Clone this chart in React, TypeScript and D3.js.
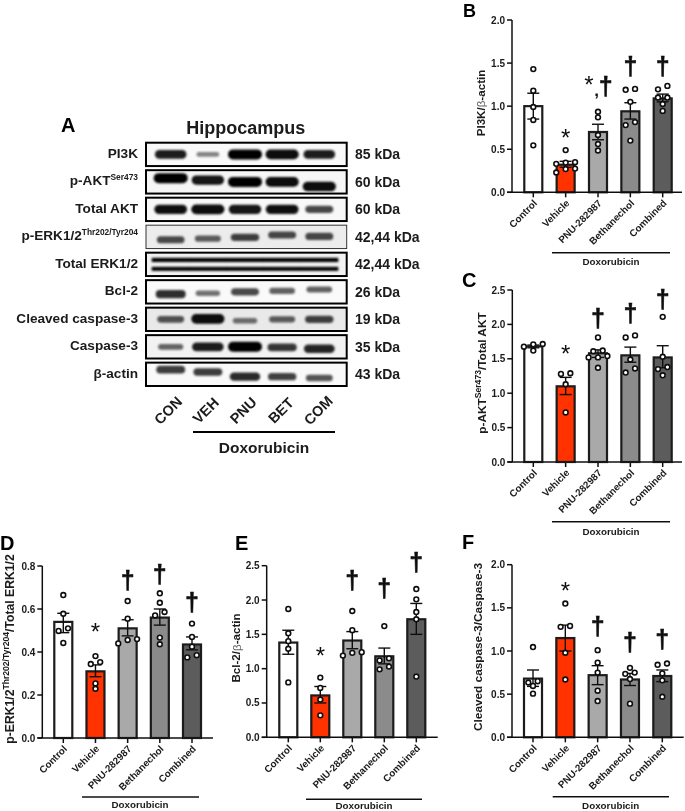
import React from "react";
import * as d3 from "d3";

const groups = ["Control", "Vehicle", "PNU-282987", "Bethanechol", "Combined"];
const barColors = ["#ffffff", "#ff3000", "#a9a9a9", "#8b8b8b", "#5c5c5c"];

const bMeans = [1.0, 0.32, 0.7, 0.94, 1.09];
const bUpper = [1.15, 0.36, 0.79, 1.04, 1.14];
const bLower = [0.85, 0.29, 0.61, 0.85, 1.05];
const bPoints = [
  [1.43, 1.18, 0.99, 0.84, 0.545],
  [0.49, 0.35, 0.345, 0.33, 0.275, 0.27, 0.23],
  [0.935, 0.87, 0.665, 0.56, 0.485],
  [1.2, 1.19, 1.05, 0.815, 0.78, 0.6],
  [1.235, 1.195, 1.1, 1.1, 1.025, 0.945],
];
const cMeans = [1.68, 1.1, 1.58, 1.55, 1.52];
const cUpper = [1.7, 1.23, 1.63, 1.67, 1.69];
const cLower = [1.66, 0.98, 1.52, 1.45, 1.37];
const cPoints = [
  [1.715, 1.71, 1.676, 1.62],
  [1.29, 1.28, 1.13, 0.72],
  [1.81, 1.62, 1.61, 1.54, 1.52, 1.52, 1.37],
  [1.84, 1.81, 1.49, 1.36, 1.3],
  [2.11, 1.53, 1.38, 1.35, 1.26],
];
const dMeans = [0.54, 0.31, 0.51, 0.56, 0.435];
const dUpper = [0.58, 0.34, 0.55, 0.6, 0.47];
const dLower = [0.49, 0.285, 0.475, 0.525, 0.41];
const dPoints = [
  [0.665, 0.578, 0.51, 0.498, 0.442],
  [0.381, 0.353, 0.344, 0.254, 0.229],
  [0.637, 0.555, 0.46, 0.456, 0.44],
  [0.673, 0.629, 0.586, 0.57, 0.467, 0.436],
  [0.532, 0.47, 0.425, 0.385, 0.375],
];
const eMeans = [1.38, 0.61, 1.41, 1.18, 1.72];
const eUpper = [1.56, 0.74, 1.54, 1.3, 1.95];
const eLower = [1.21, 0.5, 1.29, 1.07, 1.5];
const ePoints = [
  [1.87, 1.515, 1.4, 1.29, 0.8],
  [0.87, 0.72, 0.55, 0.32],
  [1.84, 1.56, 1.24, 1.23, 1.19],
  [1.62, 1.15, 1.12, 1.03, 0.99],
  [2.16, 2.01, 1.825, 1.72, 0.885],
];
const fMeans = [0.68, 1.15, 0.72, 0.67, 0.71];
const fUpper = [0.78, 1.3, 0.83, 0.74, 0.78];
const fLower = [0.59, 1.0, 0.61, 0.6, 0.645];
const fPoints = [
  [1.046, 0.65, 0.635, 0.595, 0.506],
  [1.55, 1.29, 1.28, 0.98, 0.67],
  [1.01, 0.865, 0.75, 0.54, 0.42],
  [0.805, 0.75, 0.735, 0.675, 0.39],
  [0.855, 0.84, 0.74, 0.66, 0.47],
];

// marks above bars: group index, symbol, height in axis units
const bMarks: [number, string, number][] = [[1, "*", 0.68], [2, "*,†", 1.21], [3, "†", 1.44], [4, "†", 1.44]];
const cMarks: [number, string, number][] = [[1, "*", 1.63], [2, "†", 2.05], [3, "†", 2.13], [4, "†", 2.33]];
const dMarks: [number, string, number][] = [[1, "*", 0.513], [2, "†", 0.722], [3, "†", 0.753], [4, "†", 0.623]];
const eMarks: [number, string, number][] = [[1, "*", 1.24], [2, "†", 2.26], [3, "†", 2.14], [4, "†", 2.52]];
const fMarks: [number, string, number][] = [[1, "*", 1.745], [2, "†", 1.26], [3, "†", 1.08], [4, "†", 1.11]];

const lanes = ["CON", "VEH", "PNU", "BET", "COM"];
const blotNames: [string, string?][] = [
  ["PI3K"], ["p-AKT", "Ser473"], ["Total AKT"], ["p-ERK1/2", "Thr202/Tyr204"], ["Total ERK1/2"],
  ["Bcl-2"], ["Cleaved caspase-3"], ["Caspase-3"], ["β-actin"],
];
const blotKda = ["85 kDa", "60 kDa", "60 kDa", "42,44 kDa", "42,44 kDa", "26 kDa", "19 kDa", "35 kDa", "43 kDa"];
const blotStrength = [
  [0.85, 0.3, 1, 0.95, 0.85],
  [1, 0.9, 1, 0.95, 0.95],
  [0.92, 0.95, 0.9, 0.92, 0.62],
  [0.6, 0.5, 0.65, 0.62, 0.62],
  [0.55, 0.55, 0.55, 0.55, 0.55],
  [0.75, 0.4, 0.62, 0.48, 0.48],
  [0.55, 0.95, 0.4, 0.5, 0.65],
  [0.45, 0.85, 1, 0.7, 0.8],
  [0.68, 0.68, 0.78, 0.65, 0.55],
];
const blotDrift = [
  [0, 0, 0, 0, 0],
  [-0.16, -0.08, 0, 0, 0.2],
  [0, 0, 0, 0, 0],
  [0.12, 0.08, 0.02, -0.08, -0.02],
  [0, 0, 0, 0, 0],
  [0.1, 0.06, 0, -0.04, -0.1],
  [0, -0.02, 0.06, 0, 0],
  [0, 0, 0, 0.02, 0.08],
  [-0.2, -0.1, 0.1, 0.1, 0.16],
];
const blotShade = [0.05, 0.07, 0.06, 0.14, 0.1, 0.04, 0.16, 0.1, 0.05];
const doubleBandRow = 4;

const FONT = "'Liberation Sans', Arial, sans-serif";

type PanelProps = {
  letter: string; letterX: number; letterY: number; letterSize?: number;
  axisX: number; endX: number; y0: number; yTop: number; max: number; step: number;
  firstX: number; lastX: number; means: number[]; upper: number[]; lower: number[]; points: number[][];
  marks: [number, string, number][]; title: React.ReactNode; titleX: number; titleY: number; titleSize?: number;
  lineY: number; lineX0: number; lineX1: number; doxY: number; doxX: number;
};

function layoutPoints(values: number[], y: (v: number) => number) {
  const sorted = [...values].sort((a, b) => b - a);
  const bins: number[][] = [];
  sorted.forEach((v) => {
    const last = bins[bins.length - 1];
    if (last && y(v) - y(last[0]) < 4.5) last.push(v);
    else bins.push([v]);
  });
  const out: { v: number; dx: number }[] = [];
  bins.forEach((bin) => {
    const asc = [...bin].reverse();
    asc.forEach((v, i) => out.push({ v, dx: (i - (asc.length - 1) / 2) * 9.4 }));
  });
  return out;
}

const Star = ({ x, y }: { x: number; y: number }) => (
  <text x={x} y={y} textAnchor="middle" fontSize={24} fill="#111">*</text>
);
const Dagger = ({ x, y }: { x: number; y: number }) => (
  <text x={x} y={y} textAnchor="middle" fontSize={25} fontWeight="bold" fill="#111" stroke="#111" strokeWidth={0.5}>†</text>
);

function Panel(p: PanelProps) {
  const y = d3.scaleLinear().domain([0, p.max]).range([p.y0, p.yTop]);
  const x = d3.scalePoint<string>().domain(groups).range([p.firstX, p.lastX]);
  const ticks = d3.range(0, p.max + p.step / 2, p.step);
  const barW = 18;
  return (
    <g fontFamily={FONT}>
      <text x={p.letterX} y={p.letterY} fontSize={p.letterSize ?? 20} fontWeight="bold">{p.letter}</text>
      {groups.map((g, i) => {
        const cx = x(g)!;
        return (
          <g key={g}>
            <line x1={cx} x2={cx} y1={p.y0} y2={p.y0 + 5} stroke="#111" strokeWidth={1.5} />
            <rect x={cx - barW / 2} y={y(p.means[i])} width={barW} height={p.y0 - y(p.means[i])} fill={barColors[i]} stroke="#1c1c1c" strokeWidth={2.2} />
            <line x1={cx} x2={cx} y1={y(p.upper[i])} y2={y(p.lower[i])} stroke="#111" strokeWidth={1.4} />
            <line x1={cx - 6} x2={cx + 6} y1={y(p.upper[i])} y2={y(p.upper[i])} stroke="#111" strokeWidth={1.4} />
            <line x1={cx - 6} x2={cx + 6} y1={y(p.lower[i])} y2={y(p.lower[i])} stroke="#111" strokeWidth={1.4} />
            {layoutPoints(p.points[i], y).map((pt, j) => (
              <circle key={j} cx={cx + pt.dx} cy={y(pt.v)} r={2.4} fill="#fff" stroke="#111" strokeWidth={1.6} />
            ))}
            <text transform={`translate(${cx + 2},${p.y0 + 9}) rotate(-45)`} textAnchor="end" dominantBaseline="central" fontSize={9.8} fontWeight="bold" fill="#1a1a1a">{g}</text>
          </g>
        );
      })}
      <line x1={p.axisX} x2={p.axisX} y1={y(p.max)} y2={p.y0} stroke="#111" strokeWidth={1.5} />
      <line x1={p.axisX - 5} x2={p.endX} y1={p.y0} y2={p.y0} stroke="#111" strokeWidth={1.5} />
      {ticks.map((t) => (
        <g key={t}>
          <line x1={p.axisX - 5} x2={p.axisX} y1={y(t)} y2={y(t)} stroke="#111" strokeWidth={1.5} />
          <text x={p.axisX - 7} y={y(t)} textAnchor="end" dominantBaseline="central" fontSize={10} fontWeight="bold" fill="#1a1a1a">{t.toFixed(1)}</text>
        </g>
      ))}
      <text transform={`translate(${p.titleX},${p.titleY}) rotate(-90)`} textAnchor="middle" dominantBaseline="central" fontSize={p.titleSize ?? 11.6} fontWeight="bold" fill="#1a1a1a">{p.title}</text>
      {p.marks.map(([i, s, v]) => {
        const cx = x(groups[i])!;
        const cy = y(v);
        if (s === "*") return <Star key={i} x={cx} y={cy + 12} />;
        if (s === "†") return <Dagger key={i} x={cx} y={cy + 6.5} />;
        return (
          <g key={i}>
            <Star x={cx - 9} y={cy + 5} />
            <text x={cx - 1.5} y={cy + 8} textAnchor="middle" fontSize={17} fontWeight="bold" fill="#111">,</text>
            <Dagger x={cx + 7.7} y={cy + 6.5} />
          </g>
        );
      })}
      <line x1={p.lineX0} x2={p.lineX1} y1={p.lineY} y2={p.lineY} stroke="#111" strokeWidth={1.4} />
      <text x={p.doxX} y={p.doxY} textAnchor="middle" dominantBaseline="central" fontSize={9.8} fontWeight="bold" fill="#1a1a1a">Doxorubicin</text>
    </g>
  );
}

function Blots() {
  const rows = d3.scaleBand<number>().domain(d3.range(blotNames.length)).range([142.7, 386]).paddingInner(0.15);
  const lane = d3.scalePoint<string>().domain(lanes).range([170.7, 319.3]);
  const bandW = d3.scaleLinear().domain([0, 1]).range([18, 34]);
  const bandH = d3.scaleLinear().domain([0, 1]).range([2.5, 10]);
  const bandOp = d3.scaleLinear().domain([0, 1]).range([0.25, 1]);
  const fx = 146, fx1 = 346.7;
  return (
    <g fontFamily={FONT} fontWeight="bold" fill="#1a1a1a">
      <text x={61} y={132} fontSize={20} fill="#000">A</text>
      <text x={245.7} y={128} textAnchor="middle" dominantBaseline="central" fontSize={18}>Hippocampus</text>
      {blotNames.map(([name, sup], r) => {
        const top = rows(r)!;
        const h = rows.bandwidth();
        const cy = top + h / 2;
        return (
          <g key={name}>
            <rect x={fx} y={top} width={fx1 - fx} height={h} fill={d3.interpolateGreys(blotShade[r])} stroke={r === 3 ? "#333" : "#000"} strokeWidth={r === 3 ? 1 : 2} />
            <g clipPath={`url(#clip${r})`}>
              <clipPath id={`clip${r}`}><rect x={fx + 1} y={top + 1} width={fx1 - fx - 2} height={h - 2} /></clipPath>
              <g filter="url(#bandBlur)">
                {lanes.map((l, i) => {
                  const s = blotStrength[r][i];
                  const yc = cy + blotDrift[r][i] * h;
                  const cx = lane(l)!;
                  if (r === doubleBandRow) {
                    return (
                      <g key={l}>
                        <rect x={cx - 19} y={yc - 6.5} width={38} height={4.2} fill="#000" />
                        <rect x={cx - 19} y={yc + 2.5} width={38} height={4} fill="#000" />
                      </g>
                    );
                  }
                  return <rect key={l} x={cx - bandW(s) / 2} y={yc - bandH(s) / 2} width={bandW(s)} height={bandH(s)} rx={bandH(s) / 2} fill="#000" opacity={bandOp(s)} />;
                })}
              </g>
            </g>
            <text x={138} y={cy - 1} textAnchor="end" dominantBaseline="central" fontSize={13.6}>
              {name}
              {sup && <tspan dy={-4} fontSize={8.4}>{sup}</tspan>}
            </text>
            <text x={355} y={cy} dominantBaseline="central" fontSize={14}>{blotKda[r]}</text>
          </g>
        );
      })}
      {lanes.map((l, i) => (
        <text key={l} transform={`translate(${lane(l)! - 2.5 + i * 0.4},410.5) rotate(-45)`} textAnchor="middle" dominantBaseline="central" fontSize={14.5}>{l}</text>
      ))}
      <line x1={193} x2={335} y1={432} y2={432} stroke="#000" strokeWidth={2} />
      <text x={264} y={447} textAnchor="middle" dominantBaseline="central" fontSize={15.5}>Doxorubicin</text>
    </g>
  );
}

const Sup = ({ t }: { t: string }) => <tspan dy={-4} fontSize={8.6}>{t}</tspan>;
const Beta = () => <tspan fill="#666" fontWeight="normal">β</tspan>;

export default function App() {
  return (
    <svg width={685} height={811} style={{ position: "absolute", left: 0, top: 0, background: "#fff" }}>
      <defs>
        <filter id="bandBlur" x="-10%" y="-30%" width="120%" height="160%"><feGaussianBlur stdDeviation="1.3" /></filter>
        <filter id="soft" x="0" y="0" width="100%" height="100%"><feGaussianBlur stdDeviation="0.35" /></filter>
      </defs>
      <rect width={685} height={811} fill="#fff" />
      <g filter="url(#soft)">
        <Blots />
        <Panel letter="B" letterX={463} letterY={16.5} letterSize={18} axisX={512} endX={682} y0={192.3} yTop={20} max={2} step={0.5}
          firstX={533.3} lastX={662.7} means={bMeans} upper={bUpper} lower={bLower} points={bPoints} marks={bMarks}
          title={<>PI3K/<Beta />-actin</>} titleX={480} titleY={103}
          lineY={252.7} lineX0={552} lineX1={670} doxX={611} doxY={261.7} />
        <Panel letter="C" letterX={462} letterY={287} axisX={512.3} endX={682} y0={462} yTop={290} max={2.5} step={0.5}
          firstX={533.3} lastX={662.7} means={cMeans} upper={cUpper} lower={cLower} points={cPoints} marks={cMarks}
          title={<>p-AKT<Sup t="Ser473" /><tspan dy={4}>/Total AKT</tspan></>} titleX={482} titleY={373} titleSize={11.8}
          lineY={521.7} lineX0={552} lineX1={670} doxX={611} doxY={531} />
        <Panel letter="D" letterX={0} letterY={550} axisX={42.3} endX={213} y0={738} yTop={566} max={0.8} step={0.2}
          firstX={63.3} lastX={192} means={dMeans} upper={dUpper} lower={dLower} points={dPoints} marks={dMarks}
          title={<>p-ERK1/2<Sup t="Thr202/Tyr204" /><tspan dy={4}>/Total ERK1/2</tspan></>} titleX={10} titleY={649} titleSize={12.2}
          lineY={797} lineX0={82} lineX1={199} doxX={140} doxY={804.5} />
        <Panel letter="E" letterX={235} letterY={550} axisX={266.7} endX={437.7} y0={737.3} yTop={565.7} max={2.5} step={0.5}
          firstX={288.3} lastX={416.3} means={eMeans} upper={eUpper} lower={eLower} points={ePoints} marks={eMarks}
          title={<>Bcl-2/<Beta />-actin</>} titleX={235.7} titleY={648}
          lineY={799.3} lineX0={306} lineX1={422} doxX={364} doxY={805} />
        <Panel letter="F" letterX={462} letterY={549} axisX={512} endX={683.7} y0={737.3} yTop={564.7} max={2} step={0.5}
          firstX={533} lastX={662.3} means={fMeans} upper={fUpper} lower={fLower} points={fPoints} marks={fMarks}
          title={<>Cleaved caspase-3/Caspase-3</>} titleX={478} titleY={647} titleSize={11.8}
          lineY={796.7} lineX0={552.7} lineX1={669} doxX={610.7} doxY={805} />
      </g>
    </svg>
  );
}
